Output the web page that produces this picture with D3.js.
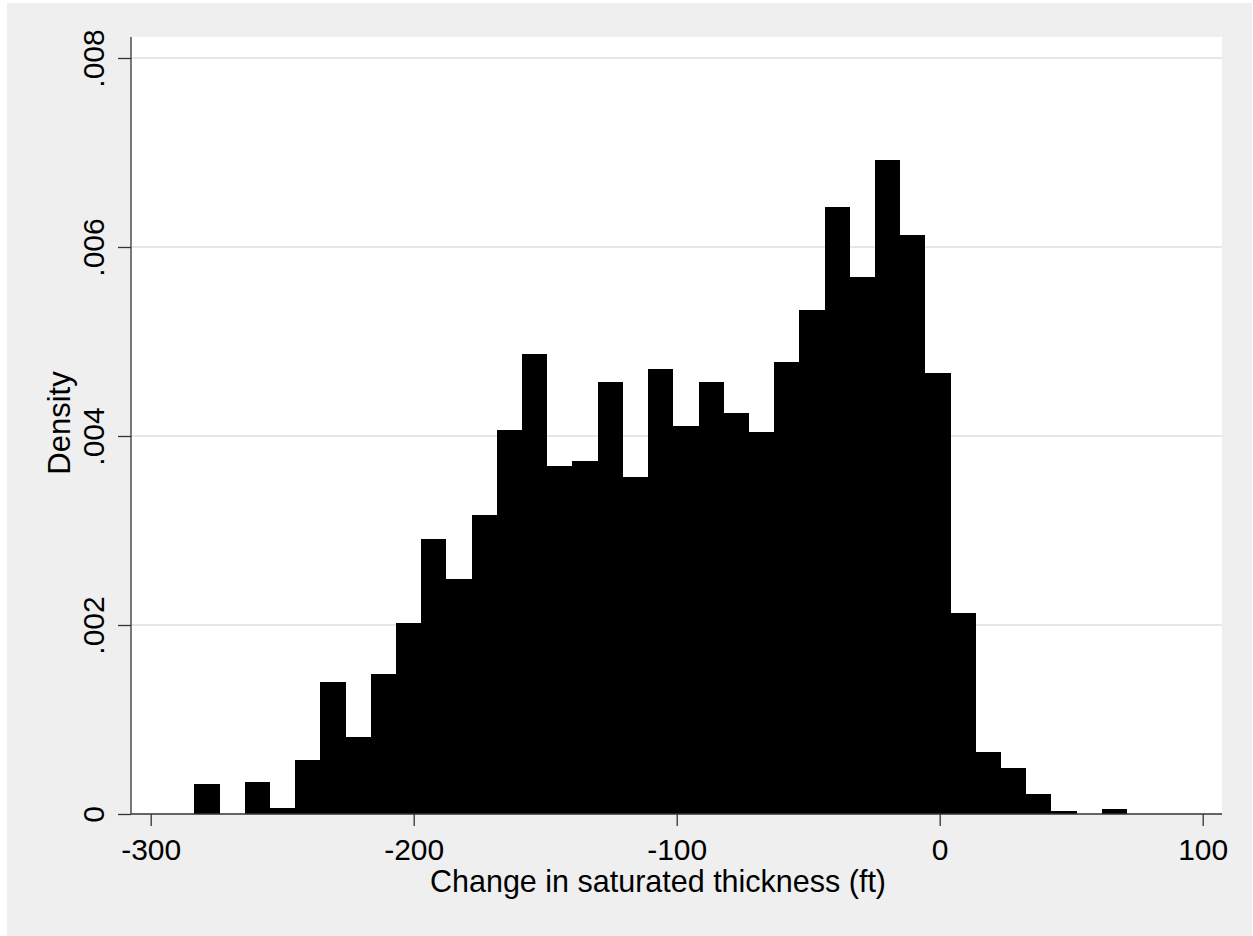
<!DOCTYPE html>
<html>
<head>
<meta charset="utf-8">
<script src="https://cdnjs.cloudflare.com/ajax/libs/d3/7.8.5/d3.min.js"></script>
<style>
  body { margin: 0; background: #fff; }
  text { font-family: "Liberation Sans", Arial, sans-serif; fill: #000; }
</style>
</head>
<body>
<div id="chart"></div>
<script>
// histogram bins: start, width, and density of each bin
var binStart = -283.4;
var binWidth = 9.585;
var density = [
    0.000321, 0, 0.000335, 0.00006, 0.000571, 0.001393, 0.000818, 0.001478,
    0.00202, 0.002913, 0.002483, 0.003161, 0.00406, 0.004864, 0.00368, 0.003738,
    0.004568, 0.003563, 0.004712, 0.004103, 0.004568, 0.00424, 0.004039, 0.004783,
    0.00533, 0.00642, 0.00568, 0.006917, 0.006124, 0.004667, 0.00213, 0.000656,
    0.000487, 0.000212, 0.00003, 0, 0.000056
];
var xTicks = [-300, -200, -100, 0, 100];
var yTicks = [0, 0.002, 0.004, 0.006, 0.008];
var yTickLabels = ["0", ".002", ".004", ".006", ".008"];
var xTitle = "Change in saturated thickness (ft)";
var yTitle = "Density";

var W = 1253, H = 936;
var plot = {left: 131, right: 1222, top: 37, bottom: 814};

var svg = d3.select("#chart")
    .append("svg")
    .attr("width", W)
    .attr("height", H);

// outer graph region
svg.append("rect")
    .attr("x", 7).attr("y", 3)
    .attr("width", W - 8).attr("height", H - 3)
    .attr("fill", "#efefef");

// plot region
svg.append("rect")
    .attr("x", plot.left).attr("y", plot.top)
    .attr("width", plot.right - plot.left).attr("height", plot.bottom - plot.top)
    .attr("fill", "#fff");

var xScale = d3.scaleLinear()
    .domain([-300, 100])
    .range([150.7, 1202.7]);

var yScale = d3.scaleLinear()
    .domain([0, 0.008])
    .range([plot.bottom, 58]);

// gridlines
svg.selectAll("line.grid")
    .data(yTicks.slice(1))
    .enter()
    .append("line")
    .attr("class", "grid")
    .attr("x1", plot.left)
    .attr("x2", plot.right)
    .attr("y1", function (d) { return yScale(d); })
    .attr("y2", function (d) { return yScale(d); })
    .attr("stroke", "#e6e6e6")
    .attr("stroke-width", 2.2);

// bars (edges rounded so neighbours share a pixel edge, no seams)
function edge(i) {
    return Math.round(xScale(binStart + i * binWidth));
}
svg.selectAll("rect.bar")
    .data(density)
    .enter()
    .append("rect")
    .attr("class", "bar")
    .attr("x", function (d, i) { return edge(i); })
    .attr("width", function (d, i) { return edge(i + 1) - edge(i); })
    .attr("y", function (d) { return Math.round(yScale(d)); })
    .attr("height", function (d) { return plot.bottom - Math.round(yScale(d)); })
    .attr("fill", "#000")
    .attr("shape-rendering", "crispEdges");

//x axis
var xAxis = d3.axisBottom(xScale)
    .tickValues(xTicks)
    .tickSize(12)
    .tickPadding(4)
    .tickFormat(function (d) { return String(d); });

var gx = svg.append("g")
    .attr("transform", "translate(0," + plot.bottom + ")")
    .call(xAxis);
gx.select(".domain").remove();
gx.selectAll(".tick line").attr("stroke", "#333").attr("stroke-width", 1.3);
gx.selectAll(".tick text")
    .attr("y", 46).attr("dy", null)
    .style("font-size", "30px")
    .style("font-family", "'Liberation Sans', Arial, sans-serif")
    .attr("fill", "#000");

svg.append("line")
    .attr("x1", plot.left).attr("x2", plot.right)
    .attr("y1", plot.bottom).attr("y2", plot.bottom)
    .attr("stroke", "#333").attr("stroke-width", 1.3);

//y axis
var yAxis = d3.axisLeft(yScale)
    .tickValues(yTicks)
    .tickSize(13)
    .tickFormat(function (d, i) { return yTickLabels[i]; });

var gy = svg.append("g")
    .attr("transform", "translate(" + plot.left + ",0)")
    .call(yAxis);
gy.select(".domain").remove();
gy.selectAll(".tick line").attr("stroke", "#333").attr("stroke-width", 1.3);
gy.selectAll(".tick text")
    .attr("x", null).attr("dy", null)
    .attr("transform", "translate(-27.5,0) rotate(-90)")
    .attr("text-anchor", "middle")
    .style("font-size", "30px")
    .style("font-family", "'Liberation Sans', Arial, sans-serif")
    .attr("fill", "#000");

svg.append("line")
    .attr("x1", plot.left).attr("x2", plot.left)
    .attr("y1", plot.top).attr("y2", plot.bottom)
    .attr("stroke", "#333").attr("stroke-width", 1.3);

// titles
svg.append("text")
    .attr("x", 658)
    .attr("y", 892)
    .attr("text-anchor", "middle")
    .style("font-size", "30.5px")
    .text(xTitle);

svg.append("text")
    .attr("transform", "translate(70,423) rotate(-90)")
    .attr("text-anchor", "middle")
    .style("font-size", "31px")
    .text(yTitle);
</script>
</body>
</html>
